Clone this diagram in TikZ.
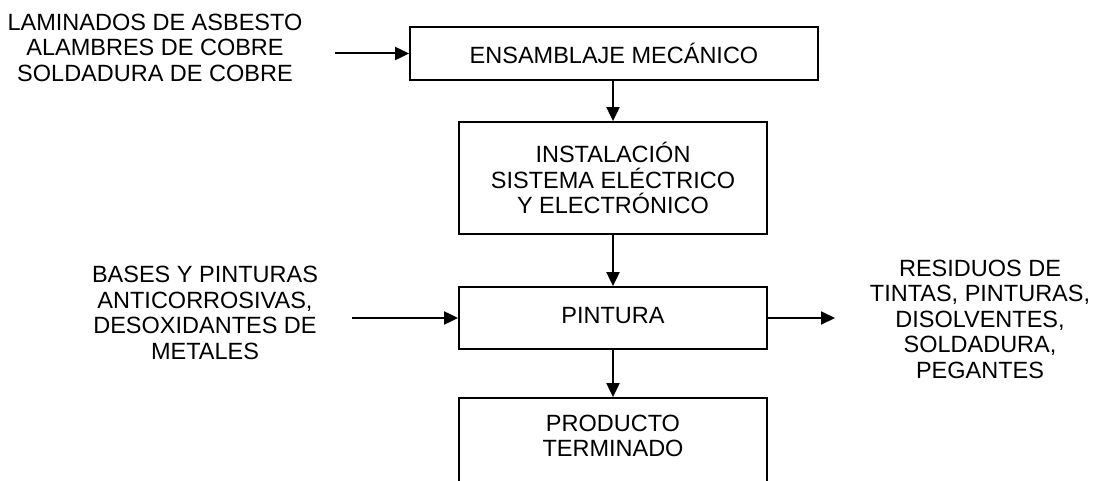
\documentclass[tikz,border=0pt]{standalone}
\usepackage{fontspec}
\setmainfont{Liberation Sans}
\usetikzlibrary{arrows.meta}
\begin{document}
\begin{tikzpicture}[x=1pt,y=-1pt,
  every node/.style={font=\fontsize{23.5}{25.5}\selectfont, align=center, inner sep=0pt},
  boxstyle/.style={draw, line width=1.8pt},
  conn/.style={line width=2pt, -{Triangle[length=14pt,width=13pt]}}]
\useasboundingbox (0,0) rectangle (1099,481);
\clip (0,0) rectangle (1099,481);
% boxes
\node[boxstyle, minimum width=408pt, minimum height=53pt] (b1) at (614,53.5) {ENSAMBLAJE MECÁNICO};
\node[boxstyle, minimum width=308pt, minimum height=112pt] (b2) at (613,178) {INSTALACIÓN\\SISTEMA ELÉCTRICO\\Y ELECTRÓNICO};
\node[boxstyle, minimum width=308pt, minimum height=62pt] (b3) at (613,318) {\raisebox{6pt}{PINTURA}};
\node[boxstyle, minimum width=308pt, minimum height=140pt] (b4) at (613,468) {};
\node (b4t) at (613,436) {PRODUCTO\\TERMINADO};
% side texts
\node (in1) at (155,47.5) {LAMINADOS DE ASBESTO\\ALAMBRES DE COBRE\\SOLDADURA DE COBRE};
\node (in2) at (205,313) {BASES Y PINTURAS\\ANTICORROSIVAS,\\DESOXIDANTES DE\\METALES};
\node (out1) at (980,319) {RESIDUOS DE\\TINTAS, PINTURAS,\\DISOLVENTES,\\SOLDADURA,\\PEGANTES};
\coordinate (s1) at (335,53.5);
\coordinate (s2) at (352,318);
\coordinate (e1) at (835,318);
% connectors
\draw[conn] (s1) -- (b1.west);
\draw[conn] (b2.north |- b1.south) -- (b2.north);
\draw[conn] (b2.south) -- (b3.north);
\draw[conn] (b3.south) -- (b4.north);
\draw[conn] (s2) -- (b3.west);
\draw[conn] (b3.east) -- (e1);
\end{tikzpicture}
\end{document}
